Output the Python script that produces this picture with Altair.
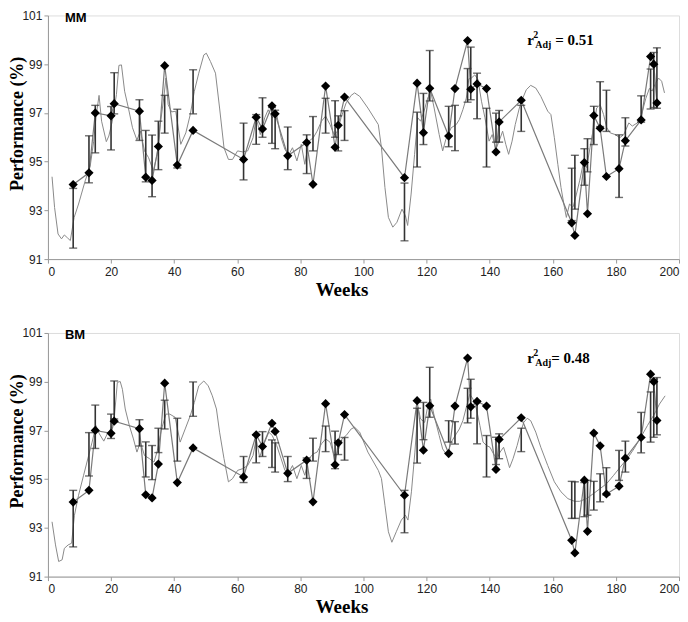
import altair as alt
import pandas as pd

# ---------------- data ----------------
weeks = [8, 13, 15, 20, 21, 29, 31, 33, 35, 37, 41, 46, 62, 66, 68, 71, 72, 76, 82, 84,
         88, 91, 92, 94, 113, 117, 119, 121, 127, 129, 133, 134, 136, 139, 142, 143, 150,
         166, 167, 170, 171, 173, 175, 177, 181, 183, 188, 191, 192, 193]
observed = [94.06, 94.54, 97.0, 96.88, 97.38, 97.07, 94.36, 94.23, 95.62, 98.94, 94.86, 96.28,
            95.09, 96.82, 96.34, 97.29, 96.96, 95.24, 95.78, 94.07, 98.1, 95.59, 96.49, 97.65,
            94.34, 98.22, 96.19, 98.01, 96.05, 98.0, 99.97, 97.97, 98.19, 98.0, 95.4, 96.63,
            97.52, 92.49, 91.97, 94.96, 92.86, 96.89, 96.37, 94.39, 94.71, 95.86, 96.71,
            99.31, 99.0, 97.41]

mm_low = [91.45, 94.13, 95.36, 95.48, 96.96, 95.87, 94.17, 93.56, 94.67, 96.17, 94.74, 96.96,
          94.25, 95.71, 96.0, 95.75, 95.53, 94.67, 94.51, 95.44, 96.17, 96.0, 95.44, 95.87,
          91.75, 94.78, 95.7, 97.49, 95.61, 95.45, 97.44, 97.54, 96.76, 94.78, 95.8, 95.8,
          96.24, 92.58, 93.05, 94.03, 94.58, 95.7, 96.44, 96.24, 93.53, 95.64, 96.62,
          97.16, 97.22, 97.19]
mm_high = [93.9, 96.06, 97.31, 97.26, 98.65, 97.54, 96.28, 96.09, 96.66, 97.72, 97.15, 98.77,
           96.58, 96.93, 97.62, 97.22, 97.11, 96.42, 96.1, 96.85, 97.6, 97.5, 96.88, 97.09,
           94.12, 97.03, 97.8, 99.56, 97.27, 97.31, 98.82, 99.7, 98.63, 97.19, 96.99, 97.1,
           97.31, 94.73, 95.26, 95.53, 95.94, 97.27, 98.28, 97.93, 96.1, 96.8, 97.7,
           98.8, 99.48, 99.67]

bm_low = [92.22, 95.13, 96.26, 96.67, 97.47, 96.36, 95.09, 94.98, 96.09, 97.06, 95.74, 97.58,
          94.86, 95.67, 95.93, 95.48, 95.29, 94.9, 95.03, 95.74, 96.13, 95.43, 96.01, 95.78,
          92.8, 95.66, 96.62, 97.54, 96.52, 96.44, 97.31, 97.5, 96.45, 95.09, 95.6, 95.84,
          96.13, 93.39, 93.39, 93.46, 93.52, 93.73, 94.07, 94.34, 94.95, 95.29, 96.08,
          96.52, 96.72, 96.82]
bm_high = [94.54, 96.91, 98.04, 97.67, 99.03, 97.44, 96.53, 96.38, 97.09, 98.24, 97.5, 98.99,
           95.93, 96.8, 96.95, 96.61, 96.49, 95.93, 95.87, 96.68, 97.18, 96.97, 96.57, 96.71,
           94.54, 97.91, 98.15, 99.59, 97.4, 97.36, 98.73, 99.1, 98.22, 96.79, 96.72, 96.86,
           97.09, 94.91, 94.89, 94.86, 94.95, 94.91, 95.22, 95.47, 96.18, 96.56, 97.74,
           98.58, 99.1, 99.17]

mm_model_weeks = [1.3, 2.1, 3.2, 4.3, 5.2, 6.2, 7.1, 8.3, 9.7, 11.8, 13.4, 14.5, 15.2, 16.2, 17.0,
                  18.5, 19.3, 20.4, 21.7, 22.5, 23.3, 24.3, 25.5, 26.8, 28.2, 29.3, 30.6, 31.9,
                  33.4, 34.6, 35.6, 36.7, 37.4, 38.1, 39.2, 40.5, 42.1, 43.7, 45.1, 46.4, 47.8,
                  49.4, 50.2, 51.5, 53.1, 54.4, 55.8, 57.2, 58.5, 60.1, 61.7, 63.3, 65.0, 66.0,
                  67.3, 68.7, 69.8, 71.1, 72.5, 73.9, 75.1, 76.4, 77.5, 78.9, 80.3, 81.4, 82.7,
                  84.1, 85.3, 86.7, 88.0, 89.4, 90.7, 91.8, 92.9, 94.5, 96.1, 97.2, 98.8, 101.4,
                  104.7, 105.7, 106.8, 107.9, 109.3, 110.6, 112.2, 113.3, 114.0, 115.1, 116.2,
                  117.2, 118.1, 119.2, 120.2, 121.3, 122.4, 124.0, 125.1, 126.1, 127.8, 129.4,
                  130.4, 131.5, 132.6, 133.4, 134.2, 135.3, 136.3, 137.4, 138.5, 139.8, 140.8,
                  141.9, 143.0, 144.1, 145.1, 146.0, 147.1, 148.1, 149.4, 150.5, 151.6, 153.0,
                  154.6, 156.2, 158.4, 159.4, 160.5, 161.6, 162.6, 163.7, 164.3, 165.3, 166.4,
                  167.5, 168.5, 169.6, 170.7, 171.8, 172.9, 173.9, 175.0, 176.1, 177.1, 178.2,
                  179.8, 181.2, 182.5, 184.1, 185.2, 186.8, 188.1, 189.5, 190.6, 191.5, 192.5,
                  193.5, 194.5, 195.4]
mm_model_vals = [94.38, 93.12, 92.03, 91.83, 91.99, 91.87, 91.76, 92.71, 93.26, 94.21, 94.82, 95.84,
                 96.8, 97.72, 96.66, 95.82, 96.05, 96.66, 97.75, 98.95, 98.97, 97.89, 97.2, 96.39,
                 95.89, 96.25, 95.44, 95.16, 94.62, 95.3, 96.52, 97.61, 98.43, 97.34, 97.04, 97.07,
                 95.71, 96.18, 96.93, 97.89, 98.63, 99.38, 99.45, 99.11, 98.63, 97.2, 95.57, 95.09,
                 95.09, 95.44, 95.4, 95.44, 95.98, 96.8, 96.11, 96.8, 97.13, 96.8, 96.93, 95.98,
                 95.5, 95.3, 95.57, 95.03, 95.71, 94.89, 95.84, 95.98, 96.25, 96.66, 96.87, 96.52,
                 96.11, 96.25, 96.8, 97.41, 97.72, 97.82, 97.68, 97.2, 96.52, 95.57, 93.94, 92.71,
                 92.31, 92.51, 93.05, 92.78, 92.38, 93.67, 95.3, 96.8, 96.66, 97.07, 97.54, 97.89,
                 97.2, 96.11, 95.44, 95.91, 96.39, 96.52, 96.73, 97.13, 97.61, 98.4, 98.43, 98.56,
                 98.36, 97.48, 96.8, 95.84, 96.11, 95.5, 95.84, 96.25, 95.71, 95.3, 95.84, 96.52,
                 97.2, 97.61, 97.95, 98.13, 98.02, 97.68, 97.07, 96.93, 95.98, 94.89, 93.94, 93.12,
                 92.71, 93.26, 93.12, 93.67, 94.21, 94.89, 94.76, 95.57, 96.39, 97.2, 97.34, 96.93,
                 96.39, 96.18, 96.11, 95.98, 96.11, 96.59, 96.46, 96.59, 96.93, 97.6, 98.0, 97.9,
                 98.2, 98.43, 98.3, 97.82]

bm_model_weeks = [1.3, 2.4, 3.4, 4.5, 5.2, 6.4, 7.5, 8.4, 9.7, 11.3, 12.9, 14.0, 15.2, 16.3, 17.7,
                  18.8, 19.9, 20.9, 22.0, 22.9, 23.6, 24.5, 25.8, 27.1, 28.2, 29.3, 30.6, 32.2,
                  33.6, 34.7, 36.0, 37.4, 38.6, 40.3, 41.9, 43.5, 45.1, 46.4, 47.8, 49.4, 50.8,
                  52.1, 53.4, 54.4, 55.8, 57.2, 58.5, 60.1, 61.7, 63.3, 65.0, 66.0, 67.1, 68.7,
                  70.0, 71.1, 72.5, 73.9, 75.1, 76.4, 77.5, 78.9, 80.3, 81.4, 82.7, 84.1, 85.3,
                  86.7, 88.0, 89.4, 90.7, 91.8, 93.2, 94.5, 96.1, 97.2, 98.8, 101.4, 104.7, 105.7,
                  106.8, 107.9, 109.0, 110.4, 112.0, 113.3, 114.1, 115.2, 116.3, 117.3, 118.1,
                  119.4, 120.2, 121.3, 122.4, 124.0, 125.1, 126.5, 127.8, 129.4, 130.4, 131.5,
                  132.6, 133.7, 134.7, 135.8, 136.9, 137.9, 139.0, 140.1, 141.2, 142.3, 143.3,
                  144.4, 145.5, 146.3, 147.4, 148.7, 149.8, 150.8, 151.9, 153.0, 154.6, 156.2,
                  158.4, 160.5, 162.6, 164.8, 166.9, 168.5, 170.7, 172.9, 175.0, 177.1, 179.3,
                  181.4, 183.6, 185.7, 187.9, 190.0, 192.2, 193.8, 195.6]
bm_model_vals = [93.25, 92.3, 91.62, 91.69, 92.16, 92.3, 92.37, 93.52, 94.34, 95.16, 95.97, 96.52,
                 97.2, 96.86, 96.56, 96.86, 97.06, 97.33, 98.97, 99.01, 98.69, 97.88, 97.2, 96.65,
                 96.11, 96.52, 95.97, 95.84, 95.7, 96.18, 97.06, 97.67, 97.67, 97.54, 96.52, 97.06,
                 97.6, 98.15, 98.83, 99.03, 98.83, 98.42, 97.88, 96.93, 95.84, 94.89, 95.02, 95.36,
                 95.43, 95.56, 95.97, 96.65, 95.9, 96.52, 96.93, 96.79, 96.38, 95.84, 95.36, 95.29,
                 95.56, 95.02, 95.56, 95.16, 95.84, 96.04, 96.11, 96.45, 96.65, 96.52, 95.97, 96.11,
                 96.65, 96.79, 97.06, 97.13, 96.93, 96.11, 95.36, 95.02, 93.93, 92.84, 92.41, 92.84,
                 93.32, 93.52, 93.32, 94.48, 96.11, 97.95, 97.47, 97.33, 97.88, 98.29, 97.6, 96.79,
                 96.24, 95.97, 96.52, 96.86, 97.06, 97.4, 97.95, 98.49, 98.29, 97.88, 97.2, 96.52,
                 96.38, 96.31, 96.04, 95.84, 96.11, 96.31, 95.84, 95.47, 95.84, 96.38, 96.93, 97.33,
                 97.5, 97.4, 96.93, 96.31, 95.56, 94.89, 94.48, 94.2, 94.09, 94.09, 94.2, 94.41,
                 94.61, 94.82, 95.16, 95.5, 95.84, 96.24, 96.72, 97.2, 97.67, 98.08, 98.42]

panel_labels = ["MM", "BM"]
r2_values = ["= 0.51", "= 0.48"]
y_ticks = [91, 93, 95, 97, 99, 101]
x_ticks = [0, 20, 40, 60, 80, 100, 120, 140, 160, 180, 200]

# ---------------- chart ----------------
W, H = 632, 244
SERIF = "Liberation Serif"
SANS = "Liberation Sans"

xscale = alt.Scale(domain=[0, 200], nice=False, zero=False)
yscale = alt.Scale(domain=[91, 101], nice=False, zero=False)

xaxis = alt.Axis(values=x_ticks, title="Weeks", titleFont=SERIF, titleFontSize=19,
                 titleFontWeight="bold", titleColor="#000", titleX=294, titleY=30,
                 titleBaseline="middle", titleAlign="center",
                 labelFont=SANS, labelFontSize=12, labelColor="#222", labelPadding=3,
                 tickSize=4, tickColor="#999", domainColor="#999", grid=False)
yaxis = alt.Axis(values=y_ticks, title="Performance (%)", titleFont=SERIF, titleFontSize=18,
                 titleFontWeight="bold", titleColor="#000", titleX=-25, titleY=108,
                 titleBaseline="alphabetic", titleAlign="center",
                 labelFont=SANS, labelFontSize=12, labelColor="#222", labelPadding=2,
                 tickSize=4, tickColor="#999", domainColor="#999", grid=False)


def panel(label, model_w, model_v, low, high, r2txt, r2_gap):
    obs = pd.DataFrame({"week": weeks, "perf": observed, "low": low, "high": high})
    model = pd.DataFrame({"week": model_w, "perf": model_v})

    model_line = alt.Chart(model).mark_line(color="#8a8a8a", strokeWidth=1).encode(
        x=alt.X("week:Q", scale=xscale, axis=xaxis),
        y=alt.Y("perf:Q", scale=yscale, axis=yaxis),
    )
    obs_line = alt.Chart(obs).mark_line(color="#7a7a7a", strokeWidth=1.2).encode(
        x=alt.X("week:Q", scale=xscale), y=alt.Y("perf:Q", scale=yscale)
    )
    bars = alt.Chart(obs).mark_rule(color="#333", strokeWidth=1.6).encode(
        x=alt.X("week:Q", scale=xscale), y=alt.Y("low:Q", scale=yscale), y2="high:Q"
    )
    cap_lo = alt.Chart(obs).mark_tick(color="#333", orient="horizontal", size=8, thickness=1.4).encode(
        x=alt.X("week:Q", scale=xscale), y=alt.Y("low:Q", scale=yscale)
    )
    cap_hi = alt.Chart(obs).mark_tick(color="#333", orient="horizontal", size=8, thickness=1.4).encode(
        x=alt.X("week:Q", scale=xscale), y=alt.Y("high:Q", scale=yscale)
    )
    pts = alt.Chart(obs).mark_point(shape="diamond", filled=True, color="#000", size=85, opacity=1).encode(
        x=alt.X("week:Q", scale=xscale), y=alt.Y("perf:Q", scale=yscale)
    )

    def txt(s, x, y, size, font, weight="bold"):
        return alt.Chart(pd.DataFrame({"t": [s]})).mark_text(
            font=font, fontSize=size, fontWeight=weight, align="left",
            baseline="alphabetic", color="#000"
        ).encode(text="t:N", x=alt.value(x), y=alt.value(y))

    texts = [
        txt(label, 17, 6.5, 13, SANS),
        txt("r", 480, 30, 15, SERIF),
        txt("2", 486, 23, 10, SERIF),
        txt("Adj", 488, 33, 10, SERIF),
        txt(r2txt, 488 + r2_gap, 30, 15, SERIF),
    ]
    return alt.layer(model_line, obs_line, bars, cap_lo, cap_hi, pts, *texts).properties(
        width=W, height=H
    )


top = panel(panel_labels[0], mm_model_weeks, mm_model_vals, mm_low, mm_high, r2_values[0], 20)
bottom = panel(panel_labels[1], bm_model_weeks, bm_model_vals, bm_low, bm_high, r2_values[1], 16)

chart = alt.vconcat(top, bottom, spacing=26).properties(
    padding={"left": 0, "top": 0, "right": 0, "bottom": 0}
).configure_view(stroke=None).configure(background="white")

chart.save("out.html", embed_options={"renderer": "svg", "actions": False})
